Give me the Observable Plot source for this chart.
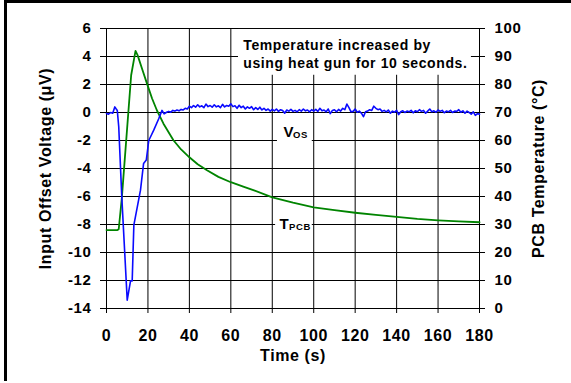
<!DOCTYPE html>
<html><head><meta charset="utf-8">
<script src="https://cdn.jsdelivr.net/npm/d3@7"></script>
<script src="https://cdn.jsdelivr.net/npm/@observablehq/plot@0.6"></script>
<style>
html,body{margin:0;padding:0;background:#fff;}
#wrap{position:relative;width:571px;height:383px;overflow:hidden;background:#fff;}
#frame{position:absolute;left:4px;top:0;width:580px;height:381px;border-top:3px solid #000;border-left:3px solid #000;box-sizing:border-box;pointer-events:none;}
#wrap svg{position:absolute;left:0;top:0;}
</style></head><body><div id="wrap"><div id="frame"></div></div>
<script>
// ---- tick labels ----
const xTicks = [0, 20, 40, 60, 80, 100, 120, 140, 160, 180];
const yTicks = [-14, -12, -10, -8, -6, -4, -2, 0, 2, 4, 6];
const tempTicks = [0, 10, 20, 30, 40, 50, 60, 70, 80, 90, 100];

// ---- PCB temperature (°C) vs time (s) ----
const tempTime  = [0, 5.3, 5.9, 7.4, 11.9, 14, 15, 17, 19.5, 22, 24.3, 27.5, 32.3, 36, 40, 44, 48.5, 54, 60, 66, 71.2, 80, 90, 100, 110, 120, 130, 140, 150, 160, 170, 180];
const tempValue = [28, 28, 28.3, 39.5, 83.3, 92, 90.5, 86, 80.4, 75, 70.8, 66, 60.1, 56.8, 54, 51.5, 49.4, 47, 45.1, 43.5, 42.2, 39.7, 37.8, 36.1, 35.1, 34.2, 33.4, 32.7, 32.0, 31.5, 31.1, 30.8];

// ---- input offset voltage (µV) vs time (s) ----
const vosTime = [0, 1, 2, 3, 4, 4.7, 5.2, 5.9, 7.4, 10, 11.6, 12.4, 13.2, 16.4, 17.9, 19.2, 20.4, 22.8, 25.2, 26.8, 27.8,
  29, 30, 31, 32, 33, 34, 35, 36, 37, 38, 39, 40, 41, 42, 43, 44, 45, 46, 47, 48, 49, 50,
  51, 52, 53, 54, 55, 56, 57, 58, 59, 60, 61, 62, 63, 64, 65, 66, 67, 68, 69, 70,
  71, 72, 73, 74, 75, 76, 77, 78, 79, 80, 81, 82, 83, 84, 85, 86, 87, 88, 89, 90,
  91, 92, 93, 94, 95, 96, 97, 98, 99, 100, 101, 102, 103, 104, 105, 106, 107, 108, 109, 110,
  111, 112, 113, 114, 115, 116, 117, 118, 119, 120, 121, 122, 123, 124, 125, 126, 127, 128, 129, 130,
  131, 132, 133, 134, 135, 136, 137, 138, 139, 140, 141, 142, 143, 144, 145, 146, 147, 148, 149, 150,
  151, 152, 153, 154, 155, 156, 157, 158, 159, 160, 161, 162, 163, 164, 165, 166, 167, 168, 169, 170,
  171, 172, 173, 174, 175, 176, 177, 178, 179, 180];
const vosValue = [-0.07, -0.12, 0.0, -0.05, 0.4, 0.25, 0.15, -1.0, -6.1, -13.4, -12.03, -12.03, -8.05, -5.55, -3.64, -3.4, -2.0, -1.26, -0.45, 0.15, -0.1,
  0.02, 0.08, 0.02, 0.15, 0.10, 0.18, 0.12, 0.22, 0.18, 0.30, 0.25, 0.45, 0.35, 0.50, 0.38, 0.55, 0.40, 0.48, 0.35, 0.60, 0.42, 0.50,
  0.38, 0.55, 0.40, 0.48, 0.35, 0.58, 0.40, 0.50, 0.45, 0.62, 0.42, 0.48, 0.30, 0.52, 0.35, 0.45, 0.25, 0.40, 0.30, 0.42,
  0.20, 0.35, 0.22, 0.38, 0.18, 0.30, 0.15, 0.25, 0.10, 0.22, 0.12, 0.25, 0.08, 0.20, 0.15, -0.05, 0.18, 0.10, 0.22, 0.08,
  0.15, 0.05, 0.20, 0.10, 0.25, 0.12, 0.18, 0.05, 0.20, 0.10, 0.22, 0.08, 0.30, 0.12, 0.18, 0.05, 0.25, -0.08, 0.15, 0.20,
  0.05, 0.22, 0.10, 0.30, 0.20, 0.60, 0.35, 0.05, 0.08, 0.25, 0.02, 0.10, -0.05, -0.30, 0.05, 0.10, 0.20, 0.15, 0.45, 0.30,
  0.20, 0.25, 0.08, 0.15, 0.05, 0.18, -0.05, 0.10, 0.02, 0.15, -0.15, 0.05, 0.12, 0.00, 0.10, 0.05, 0.15, -0.02, 0.12, 0.05,
  0.20, 0.08, 0.15, -0.05, 0.10, 0.25, 0.05, 0.12, 0.02, 0.18, 0.08, 0.15, -0.02, 0.10, 0.05, 0.15, 0.00, 0.10, 0.08, 0.20,
  0.02, 0.12, -0.05, 0.10, 0.00, -0.12, 0.05, -0.20, -0.08, -0.12];

// ---- annotations (data units) ----
const noteLines = ["Temperature increased by", "using heat gun for 10 seconds."];
const noteX = 66;
const noteY = [4.49, 3.2];
const labelBoxes = [
  {x1: 63.7, x2: 176.1, y1: 2.66, y2: 5.93},
  {x1: 82.5, x2: 99.3, y1: -2.34, y2: -0.45},
  {x1: 81.6, x2: 99.3, y1: -8.9, y2: -7.1}
];
const seriesLabels = [
  {main: "V", sub: "OS", x: 85.4, y: -1.76},
  {main: "T", sub: "PCB", x: 83.5, y: -8.29}
];

// right axis: temperature 0..100 °C drawn on the -14..6 µV scale
const toV = T => T / 5 - 14;
const tempData = tempTime.map((t, i) => ({t, v: toV(tempValue[i])}));
const vosData = vosTime.map((t, i) => ({t, v: vosValue[i]}));

const chart = Plot.plot({
  width: 571, height: 383,
  marginLeft: 106, marginRight: 92, marginTop: 28, marginBottom: 75,
  x: {domain: [0, 180]},
  y: {domain: [-14, 6]},
  style: {fontFamily: "'Liberation Sans', Arial, sans-serif", fontWeight: "bold", background: "transparent", color: "#000", overflow: "visible"},
  marks: [
    Plot.gridX(xTicks, {stroke: "#000", strokeOpacity: 1, strokeWidth: 1}),
    Plot.gridY(yTicks, {stroke: "#000", strokeOpacity: 1, strokeWidth: 1}),
    Plot.rect(labelBoxes, {x1: "x1", x2: "x2", y1: "y1", y2: "y2", fill: "white"}),
    Plot.ruleY(tempTicks.map(toV), {x1: 177.2, x2: 180, stroke: "#000"}),
    Plot.axisY(yTicks, {anchor: "left", tickSize: 6, tickPadding: 9, fontSize: 15, fontWeight: "bold", tickFormat: d => String(d), label: null}),
    Plot.axisY(tempTicks.map(toV), {anchor: "right", tickSize: 5, tickPadding: 10, fontSize: 15, fontWeight: "bold", tickFormat: v => String(Math.round((v + 14) * 5)), label: null}),
    Plot.axisX(xTicks, {anchor: "bottom", tickSize: 5, tickPadding: 16, fontSize: 16, fontWeight: "bold", tickFormat: d => String(d), label: null}),
    Plot.line(tempData, {x: "t", y: "v", stroke: "#008400", strokeWidth: 1.8}),
    Plot.line(vosData, {x: "t", y: "v", stroke: "#0a0aff", strokeWidth: 1.6}),
    Plot.text(noteLines, {x: noteX, y: (d, i) => noteY[i], text: d => d, textAnchor: "start", lineAnchor: "bottom", fontSize: 14, fontWeight: "bold", ariaLabel: "note"}),
    Plot.text(seriesLabels, {x: "x", y: "y", text: "main", textAnchor: "start", lineAnchor: "bottom", fontSize: 15, fontWeight: "bold", ariaLabel: "series-main"}),
    Plot.text(seriesLabels, {x: "x", y: "y", text: "sub", textAnchor: "start", lineAnchor: "bottom", dx: 9.5, dy: 1.3, fontSize: 9.5, fontWeight: "bold", ariaLabel: "series-sub"}),
    Plot.text(["Input Offset Voltage (μV)"], {text: d => d, frameAnchor: "left", textAnchor: "middle", lineAnchor: "middle", dx: -60.5, rotate: -90, fontSize: 16, fontWeight: "bold", ariaLabel: "title"}),
    Plot.text(["PCB Temperature (°C)"], {text: d => d, frameAnchor: "right", textAnchor: "middle", lineAnchor: "middle", dx: 59, rotate: -90, fontSize: 16, fontWeight: "bold", ariaLabel: "title"}),
    Plot.text(["Time (s)"], {text: d => d, frameAnchor: "bottom", textAnchor: "middle", dy: 52.4, lineAnchor: "bottom", fontSize: 16, fontWeight: "bold", ariaLabel: "title"})
  ]
});
document.getElementById("wrap").insertBefore(chart, document.getElementById("frame"));
const s = d3.select(chart);
s.selectAll("text").style("letter-spacing", "0.6px");
s.selectAll("g[aria-label='title'] text").style("letter-spacing", "1px");
s.selectAll("g[aria-label='note'] text").style("letter-spacing", "0.6px");
</script></body></html>
